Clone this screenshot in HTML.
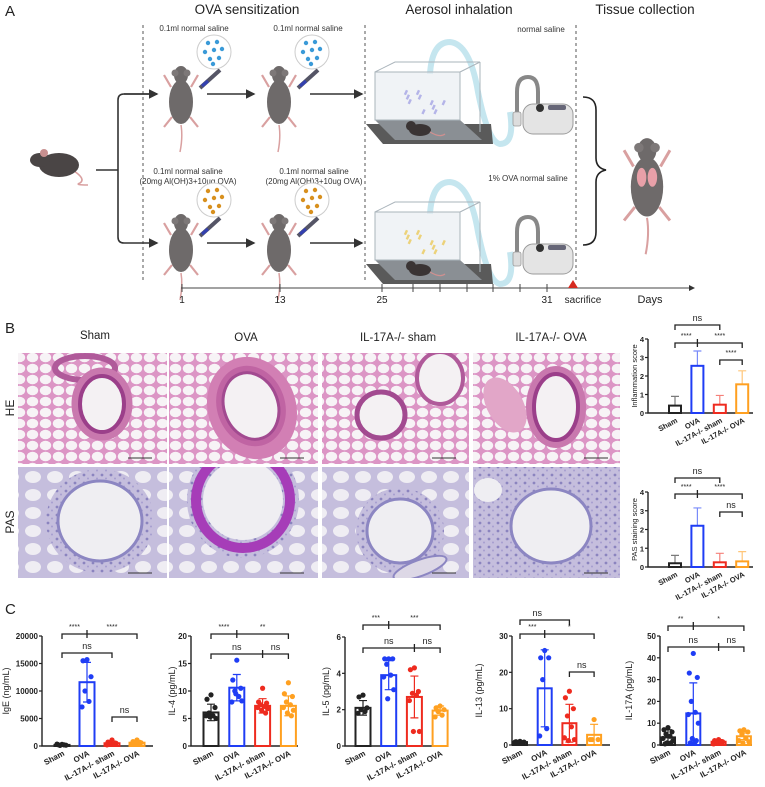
<!DOCTYPE html>
<html><head><meta charset="utf-8"><style>
html,body{margin:0;padding:0;background:#fff;}
svg{display:block;font-family:"Liberation Sans",Arial,sans-serif;}
</style></head><body>
<svg id="fig" width="765" height="787" viewBox="0 0 765 787" xmlns="http://www.w3.org/2000/svg">
<defs>
<pattern id="hePat" width="13" height="11" patternUnits="userSpaceOnUse">
<rect width="13" height="11" fill="#dc95c5"/>
<ellipse cx="6.5" cy="5.5" rx="5.7" ry="4.7" fill="#f7f3f6"/>
</pattern>
<pattern id="pasPat" width="9" height="8" patternUnits="userSpaceOnUse">
<rect width="9" height="8" fill="#c5bedd"/>
<circle cx="3" cy="3" r="1.4" fill="#8b84bf"/>
<circle cx="7" cy="6.5" r="1" fill="#a59ecf"/>
</pattern>
<pattern id="pasAlv" width="22" height="18" patternUnits="userSpaceOnUse">
<rect width="22" height="18" fill="#c5bedd"/>
<ellipse cx="11" cy="9" rx="8" ry="6" fill="#efedf3"/>
</pattern>
<clipPath id="c1"><rect x="18" y="353" width="149" height="111"/></clipPath>
<clipPath id="c2"><rect x="169" y="353" width="149" height="111"/></clipPath>
<clipPath id="c3"><rect x="322" y="353" width="147" height="111"/></clipPath>
<clipPath id="c4"><rect x="473" y="353" width="147" height="111"/></clipPath>
<clipPath id="c5"><rect x="18" y="467" width="149" height="111"/></clipPath>
<clipPath id="c6"><rect x="169" y="467" width="149" height="111"/></clipPath>
<clipPath id="c7"><rect x="322" y="467" width="147" height="111"/></clipPath>
<clipPath id="c8"><rect x="473" y="467" width="147" height="111"/></clipPath>
<marker id="arr" markerWidth="6" markerHeight="6" refX="5" refY="3" orient="auto"><path d="M0,0 L6,3 L0,6 z" fill="#333"/></marker>
</defs>

<g>
<text x="5" y="16" font-size="15" fill="#222">A</text>
<text x="247" y="14" font-size="13.5" text-anchor="middle" fill="#222">OVA sensitization</text>
<text x="459" y="14" font-size="13.5" text-anchor="middle" fill="#222">Aerosol inhalation</text>
<text x="645" y="14" font-size="13.5" text-anchor="middle" fill="#222">Tissue collection</text>
<g stroke="#555" stroke-width="1" stroke-dasharray="3,3">
<line x1="143" y1="25" x2="143" y2="280"/><line x1="365" y1="25" x2="365" y2="280"/><line x1="576" y1="25" x2="576" y2="280"/>
</g>
<g fill="none" stroke="#333" stroke-width="1.6">
<path d="M96,170 L118,170"/>
<path d="M157,94 L124,94 Q118,94 118,100 L118,237 Q118,243 124,243 L157,243" marker-end="url(#arr)"/>
<path d="M124,94 L157,94" marker-end="url(#arr)"/>
<line x1="207" y1="94" x2="254" y2="94" marker-end="url(#arr)"/>
<line x1="310" y1="94" x2="362" y2="94" marker-end="url(#arr)"/>
<line x1="207" y1="243" x2="254" y2="243" marker-end="url(#arr)"/>
<line x1="310" y1="243" x2="362" y2="243" marker-end="url(#arr)"/>
</g>
<g font-size="8" fill="#333" text-anchor="middle">
<text x="194" y="31">0.1ml normal saline</text>
<text x="308" y="31">0.1ml normal saline</text>
<text x="188" y="174">0.1ml normal saline</text>
<text x="188" y="184">(20mg Al(OH)3+10ug OVA)</text>
<text x="314" y="174">0.1ml normal saline</text>
<text x="314" y="184">(20mg Al(OH)3+10ug OVA)</text>
<text x="541" y="32">normal saline</text>
<text x="528" y="181">1% OVA normal saline</text>
</g>
<g id="mice"></g>
<g id="chambers"></g>
<path d="M583,97 Q596,97 596,110 L596,158 Q596,168 606,170 Q596,172 596,182 L596,232 Q596,245 583,245" fill="none" stroke="#222" stroke-width="1.6"/>
<g>
<line x1="181" y1="288" x2="694" y2="288" stroke="#444" stroke-width="1" marker-end="url(#arr)"/>
<g stroke="#444" stroke-width="1" id="tticks"></g>
<path d="M568,288 L578,288 L573,280 z" fill="#d62b20"/>
<g font-size="10" fill="#222" text-anchor="middle">
<text x="182" y="303">1</text><text x="280" y="303">13</text><text x="382" y="303">25</text><text x="547" y="303">31</text>
<text x="583" y="303">sacrifice</text><text x="650" y="303" font-size="11">Days</text>
</g>
</g>
</g>

<g>
<text x="5" y="333" font-size="15" fill="#222">B</text>
<g font-size="11.5" fill="#222" text-anchor="middle">
<text x="95" y="339">Sham</text><text x="246" y="341">OVA</text><text x="398" y="341">IL-17A-/- sham</text><text x="551" y="341">IL-17A-/- OVA</text>
</g>
<text transform="translate(14,408) rotate(-90)" font-size="12" text-anchor="middle" fill="#222">HE</text>
<text transform="translate(14,522) rotate(-90)" font-size="12" text-anchor="middle" fill="#222">PAS</text>

<g clip-path="url(#c1)">
<rect x="18" y="353" width="149" height="111" fill="url(#hePat)"/>
<ellipse cx="85" cy="368" rx="30" ry="12" fill="none" stroke="#b05a9a" stroke-width="6"/>
<ellipse cx="102" cy="404" rx="26" ry="32" fill="none" stroke="#c978ae" stroke-width="9"/>
<ellipse cx="102" cy="404" rx="22" ry="28" fill="#f4f1f3" stroke="#9b3f8a" stroke-width="4"/>
</g>
<g clip-path="url(#c2)">
<rect x="169" y="353" width="149" height="111" fill="url(#hePat)"/>
<ellipse cx="252" cy="408" rx="44" ry="52" transform="rotate(-20 252 408)" fill="#d27fb4"/>
<ellipse cx="251" cy="406" rx="34" ry="41" transform="rotate(-20 251 406)" fill="#c064a3"/>
<ellipse cx="251" cy="406" rx="27" ry="34" transform="rotate(-20 251 406)" fill="#f4f1f3" stroke="#a24a90" stroke-width="3"/>
</g>
<g clip-path="url(#c3)">
<rect x="322" y="353" width="147" height="111" fill="url(#hePat)"/>
<ellipse cx="381" cy="415" rx="24" ry="23" fill="#f4f1f3" stroke="#a24a90" stroke-width="5"/>
<ellipse cx="440" cy="378" rx="23" ry="26" fill="#f4f1f3" stroke="#b05a9a" stroke-width="4"/>
</g>
<g clip-path="url(#c4)">
<rect x="473" y="353" width="147" height="111" fill="url(#hePat)"/>
<ellipse cx="505" cy="405" rx="18" ry="30" transform="rotate(-30 505 405)" fill="#e2a6c8"/>
<ellipse cx="556" cy="407" rx="26" ry="37" fill="none" stroke="#c978ae" stroke-width="8"/>
<ellipse cx="556" cy="407" rx="22" ry="33" fill="#f4f1f3" stroke="#9b3f8a" stroke-width="4"/>
</g>
<g clip-path="url(#c5)">
<rect x="18" y="467" width="149" height="111" fill="url(#pasAlv)"/>
<ellipse cx="100" cy="521" rx="54" ry="52" fill="url(#pasPat)"/>
<ellipse cx="100" cy="521" rx="42" ry="40" fill="#efeef2" stroke="#8c86c2" stroke-width="3"/>
</g>
<g clip-path="url(#c6)">
<rect x="169" y="467" width="149" height="111" fill="url(#pasAlv)"/>
<ellipse cx="243" cy="500" rx="56" ry="58" fill="url(#pasPat)"/>
<ellipse cx="243" cy="500" rx="47" ry="48" fill="none" stroke="#a63db8" stroke-width="10"/>
<ellipse cx="243" cy="500" rx="40" ry="40" fill="#efeef2"/>
</g>
<g clip-path="url(#c7)">
<rect x="322" y="467" width="147" height="111" fill="url(#pasAlv)"/>
<ellipse cx="400" cy="531" rx="44" ry="43" fill="url(#pasPat)"/>
<ellipse cx="400" cy="531" rx="33" ry="32" fill="#efeef2" stroke="#8c86c2" stroke-width="3"/>
<ellipse cx="420" cy="568" rx="28" ry="8" transform="rotate(-20 420 568)" fill="#ddd8e6" stroke="#8c86c2" stroke-width="2"/>
</g>
<g clip-path="url(#c8)">
<rect x="473" y="467" width="147" height="111" fill="url(#pasPat)"/>
<ellipse cx="488" cy="490" rx="14" ry="12" fill="#efeef2"/>
<ellipse cx="551" cy="526" rx="40" ry="37" fill="#efeef2" stroke="#8c86c2" stroke-width="3"/>
</g>
<g id="scalebars" stroke="#333" stroke-width="1"></g>
<g id="scoreCharts"></g>
</g>

<g>
<text x="5" y="614" font-size="15" fill="#222">C</text>
<g id="cytoCharts"></g>
</g>
</svg>

<script>
const cats = ["Sham", "OVA", "IL-17A-/- sham", "IL-17A-/- OVA"];
const groupColors = ["#222222", "#1f3df5", "#ee2b1f", "#ffa020"];

const inflMeans = [0.4, 2.55, 0.45, 1.55];
const inflErr = [0.9, 3.35, 0.95, 2.28];
const pasMeans = [0.2, 2.2, 0.25, 0.3];
const pasErr = [0.62, 3.15, 0.73, 0.82];
const scoreTicks = [0, 1, 2, 3, 4];

const igeMeans = [200, 11600, 500, 600];
const igeErr = [380, 15200, 900, 1000];
const igeDots = [[300, 250, 150, 100, 200, 350], [15700, 15500, 12600, 10000, 8100, 7100], [1100, 700, 500, 400, 300, 200], [1100, 800, 600, 500, 400, 300]];
const igeTicks = [0, 5000, 10000, 15000, 20000];

const il4Means = [6.1, 10.6, 7.3, 7.3];
const il4Err = [7.6, 13.0, 8.6, 9.1];
const il4Dots = [[9.3, 8.5, 7.0, 6.0, 5.5, 5.5, 5.0, 5.3], [15.6, 12.0, 10.5, 10.0, 9.0, 8.0, 8.2, 9.5], [10.5, 8.0, 7.8, 7.5, 7.2, 7.0, 6.8, 6.5, 6.0], [11.5, 9.5, 9.0, 8.0, 7.5, 7.0, 6.5, 6.0, 5.5]];
const il4Ticks = [0, 5, 10, 15, 20];

const il5Means = [2.1, 3.9, 2.7, 1.95];
const il5Err = [2.5, 4.7, 3.85, 2.2];
const il5Dots = [[2.8, 2.7, 2.1, 2.0, 1.9, 1.8], [4.8, 4.8, 4.8, 4.5, 3.9, 3.8, 3.1, 2.6], [4.3, 4.2, 3.0, 2.9, 2.8, 2.5, 0.8, 0.8], [2.2, 2.1, 2.0, 1.9, 1.7, 1.6]];
const il5Ticks = [0, 2, 4, 6];

const il13Means = [0.8, 15.6, 6.0, 2.8];
const il13Err = [1.1, 26.2, 11.2, 5.7];
const il13Dots = [[1.0, 0.9, 0.8, 0.7, 0.6, 0.8], [26.0, 24.0, 24.0, 18.0, 4.5, 2.5], [14.8, 13.0, 10.0, 8.0, 5.0, 2.0, 1.5, 1.2], [7.0, 1.5, 1.5, 1.5]];
const il13Ticks = [0, 10, 20, 30];

const il17Means = [3.5, 14.5, 1.5, 4.0];
const il17Err = [7.0, 28.5, 2.5, 5.5];
const il17Dots = [[8, 7, 6, 5, 4, 3, 2, 1, 1, 0.5], [42, 33, 31, 20, 15, 14, 10, 3, 2, 1, 1], [2.5, 2, 1.5, 1, 1, 0.5], [7, 6.5, 6, 5, 3, 2, 1.5, 1]];
const il17Ticks = [0, 10, 20, 30, 40, 50];

const NS = "http://www.w3.org/2000/svg";
function mk(tag, attrs, parent) {
  const e = document.createElementNS(NS, tag);
  for (const k in attrs) e.setAttribute(k, attrs[k]);
  if (parent) parent.appendChild(e);
  return e;
}
const jit = [0, -4, 4, -2, 2, -5, 5, -1, 3, -3, 1];

function drawChart(parent, o) {
  const g = mk("g", {}, parent);
  
  
  const max = o.ticks[o.ticks.length - 1];
  const ys = v => o.y0 - v / max * (o.y0 - o.ytop);
  const xs = i => o.first + i * o.step;
  const ax = mk("path", {d: `M${o.x0},${o.ytop} L${o.x0},${o.y0} L${o.xend},${o.y0}`, fill: "none", stroke: "#222", "stroke-width": 1.4}, g);
  
  
  o.ticks.forEach(t => {
    mk("line", {x1: o.x0 - 3, x2: o.x0, y1: ys(t), y2: ys(t), stroke: "#222", "stroke-width": 1.2}, g);
    const tl = mk("text", {x: o.x0 - 4, y: ys(t) + 3, "font-size": o.tickSize || 8, "font-weight": "bold", "text-anchor": "end", fill: "#222"}, g);
    tl.textContent = t;
    
    
  });
  const yl = mk("text", {transform: `translate(${o.ylx},${(o.y0 + o.ytop) / 2}) rotate(-90)`, "font-size": o.ylSize || 9, "text-anchor": "middle", fill: "#222"}, g);
  yl.textContent = o.ylabel;
  
  
  o.means.forEach((m, i) => {
    const c = xs(i), col = groupColors[i];
    const bar = mk("rect", {x: c - o.bw / 2, y: ys(m), width: o.bw, height: o.y0 - ys(m), fill: "#fff", stroke: col, "stroke-width": 2}, g);
    
    
    const up = o.errs[i];
    const lo = o.lower ? Math.max(0, 2 * m - up) : m;
    const eb = mk("path", {d: `M${c},${ys(lo)} L${c},${ys(up)} M${c - 4},${ys(up)} L${c + 4},${ys(up)}` + (o.lower && lo > 0 ? ` M${c - 4},${ys(lo)} L${c + 4},${ys(lo)}` : ""), stroke: col, "stroke-width": 1.2, fill: "none", opacity: o.lower ? 1 : 0.6}, g);
    
    
    if (o.dots) o.dots[i].forEach((v, j) => {
      const d = mk("circle", {cx: c + jit[j % jit.length], cy: ys(v), r: 2.6, fill: col}, g);
      
      
    });
    const xl = mk("text", {transform: `translate(${c + 3},${o.y0 + 9}) rotate(-28)`, "font-size": o.xlSize || 8, "font-weight": "bold", "text-anchor": "end", fill: "#222"}, g);
    xl.textContent = cats[i];
    
    
  });
  o.brackets.forEach(b => {
    const [a, z, y, mid, labs] = b;
    let d = `M${xs(a)},${y + 5} L${xs(a)},${y} L${xs(z)},${y} L${xs(z)},${y + 5}`;
    if (mid !== null) d += ` M${xs(mid)},${y - 4} L${xs(mid)},${y + 4}`;
    const br = mk("path", {d: d, stroke: "#222", "stroke-width": 1.3, fill: "none"}, g);
    
    
    labs.forEach(l => {
      const st = l[1].startsWith("*");
      const t = mk("text", {x: xs(0) + l[0] * o.step, y: st ? y - 5 : y - 4, "font-size": st ? 7 : 9, "text-anchor": "middle", fill: "#222"}, g);
      t.textContent = l[1];
      
      
    });
  });
}

const sc = document.getElementById("scoreCharts");
drawChart(sc, {name: "inflammation-score-chart", x0: 648, xend: 753, y0: 413, ytop: 339, ticks: scoreTicks, first: 675, step: 22.4, bw: 12,
  means: inflMeans, errs: inflErr, ylabel: "Inflammation score", ylx: 637, ylSize: 7.5, tickSize: 7.5, xlSize: 7.5,
  brackets: [[0, 2, 325, null, [[1, "ns"]]], [0, 3, 343, 1, [[0.5, "****"], [2, "****"]]], [2, 3, 360, null, [[2.5, "****"]]]]});
drawChart(sc, {name: "pas-score-chart", x0: 648, xend: 753, y0: 567, ytop: 492, ticks: scoreTicks, first: 675, step: 22.4, bw: 12,
  means: pasMeans, errs: pasErr, ylabel: "PAS staining score", ylx: 637, ylSize: 7.5, tickSize: 7.5, xlSize: 7.5,
  brackets: [[0, 2, 478, null, [[1, "ns"]]], [0, 3, 494, 1, [[0.5, "****"], [2, "****"]]], [2, 3, 512, null, [[2.5, "ns"]]]]});

const cc = document.getElementById("cytoCharts");
drawChart(cc, {name: "ige-chart", x0: 42, xend: 153, y0: 746, ytop: 636, ticks: igeTicks, first: 62, step: 25, bw: 15, lower: true,
  means: igeMeans, errs: igeErr, dots: igeDots, ylabel: "IgE (ng/mL)", ylx: 9,
  brackets: [[0, 3, 634, 1, [[0.5, "****"], [2, "****"]]], [0, 2, 653, null, [[1, "ns"]]], [2, 3, 717, null, [[2.5, "ns"]]]]});
drawChart(cc, {name: "il4-chart", x0: 191, xend: 298, y0: 746, ytop: 636, ticks: il4Ticks, first: 211, step: 25.8, bw: 15, lower: true,
  means: il4Means, errs: il4Err, dots: il4Dots, ylabel: "IL-4 (pg/mL)", ylx: 175,
  brackets: [[0, 3, 634, 1, [[0.5, "****"], [2, "**"]]], [0, 3, 654, 2, [[1, "ns"], [2.5, "ns"]]]]});
drawChart(cc, {name: "il5-chart", x0: 345, xend: 447, y0: 746, ytop: 637, ticks: il5Ticks, first: 363, step: 25.7, bw: 15, lower: true,
  means: il5Means, errs: il5Err, dots: il5Dots, ylabel: "IL-5 (pg/mL)", ylx: 329,
  brackets: [[0, 3, 625, 1, [[0.5, "***"], [2, "***"]]], [0, 3, 648, 2, [[1, "ns"], [2.5, "ns"]]]]});
drawChart(cc, {name: "il13-chart", x0: 512, xend: 610, y0: 745, ytop: 636, ticks: il13Ticks, first: 520, step: 24.7, bw: 14, lower: true,
  means: il13Means, errs: il13Err, dots: il13Dots, ylabel: "IL-13 (pg/mL)", ylx: 482,
  brackets: [[0, 2, 620, null, [[0.7, "ns"]]], [0, 3, 634, 1, [[0.5, "***"], [2, "*"]]], [2, 3, 672, null, [[2.5, "ns"]]]]});
drawChart(cc, {name: "il17a-chart", x0: 660, xend: 752, y0: 745, ytop: 636, ticks: il17Ticks, first: 668, step: 25.3, bw: 14, lower: true,
  means: il17Means, errs: il17Err, dots: il17Dots, ylabel: "IL-17A (pg/mL)", ylx: 632,
  brackets: [[0, 3, 626, 1, [[0.5, "**"], [2, "*"]]], [0, 3, 647, 2, [[1, "ns"], [2.5, "ns"]]]]});

const tt = document.getElementById("tticks");
[182, 280, 382, 413, 440, 467, 493, 520, 547].forEach(x => mk("line", {x1: x, x2: x, y1: 284, y2: 292}, tt));

const sb = document.getElementById("scalebars");
[[140, 458], [292, 458], [444, 458], [596, 458], [140, 573], [292, 573], [444, 573], [596, 573]].forEach(p => mk("line", {x1: p[0] - 12, x2: p[0] + 12, y1: p[1], y2: p[1]}, sb));

const mice = document.getElementById("mice");
function uprightMouse(cx, cy, s, name) {
  const g = mk("g", {transform: `translate(${cx},${cy}) scale(${s})`}, mice);
  
  
  mk("path", {d: "M0,28 Q2,40 -1,55", stroke: "#d9a0a0", "stroke-width": 1.5, fill: "none"}, g);
  mk("path", {d: "M-10,-10 L-17,-22 M10,-10 L17,-22 M-9,20 L-17,30 M9,20 L17,30", stroke: "#d9a0a0", "stroke-width": 2.2, fill: "none"}, g);
  mk("ellipse", {cx: 0, cy: 5, rx: 12, ry: 22, fill: "#6e6a6a"}, g);
  mk("ellipse", {cx: 0, cy: -22, rx: 7, ry: 9, fill: "#6e6a6a"}, g);
  mk("circle", {cx: -6, cy: -24, r: 3.5, fill: "#7d7878"}, g);
  mk("circle", {cx: 6, cy: -24, r: 3.5, fill: "#7d7878"}, g);
  return g;
}
function syringe(x, y, dots, col) {
  const g = mk("g", {}, mice);
  
  
  mk("line", {x1: x - 14, y1: y + 28, x2: x + 6, y2: y + 10, stroke: "#556", "stroke-width": 4}, g);
  mk("line", {x1: x - 12, y1: y + 26, x2: x - 6, y2: y + 21, stroke: "#3340b0", "stroke-width": 3.2}, g);
  mk("circle", {cx: x, cy: y - 8, r: 17, fill: "#fff", stroke: "#ccc", "stroke-width": 1}, g);
  dots.forEach(d => mk("circle", {cx: x + d[0], cy: y - 8 + d[1], r: 2.2, fill: col}, g));
}
const dotPos = [[-6, -9], [3, -10], [-9, 0], [0, -2], [8, -3], [-4, 7], [5, 6], [-1, 12]];
uprightMouse(181, 97, 1.0, "sham-mouse-injection-1");
uprightMouse(279, 97, 1.0, "sham-mouse-injection-2");
uprightMouse(181, 245, 1.0, "ova-mouse-injection-1");
uprightMouse(279, 245, 1.0, "ova-mouse-injection-2");
syringe(214, 60, dotPos, "#3a9ad8");
syringe(312, 60, dotPos, "#3a9ad8");
syringe(214, 208, dotPos, "#d8901e");
syringe(312, 208, dotPos, "#d8901e");
const rm = uprightMouse(647, 180, 1.35, "sacrificed-mouse");
mk("ellipse", {cx: -4, cy: -2, rx: 3.5, ry: 7, fill: "#e8a0a8"}, rm);
mk("ellipse", {cx: 4, cy: -2, rx: 3.5, ry: 7, fill: "#e8a0a8"}, rm);
const lm = mk("g", {transform: "translate(56,165)"}, mice);


mk("path", {d: "M18,6 Q30,14 24,18 Q18,20 32,20", stroke: "#d9a0a0", "stroke-width": 1.6, fill: "none"}, lm);
mk("ellipse", {cx: 3, cy: 0, rx: 20, ry: 12, fill: "#4a4545"}, lm);
mk("ellipse", {cx: -16, cy: -5, rx: 10, ry: 7, fill: "#4a4545"}, lm);
mk("circle", {cx: -12, cy: -12, r: 4, fill: "#c89090"}, lm);

const ch = document.getElementById("chambers");
function chamber(y, col, name) {
  const g = mk("g", {}, ch);
  
  
  mk("path", {d: `M430,${y + 2} Q432,${y - 30} 450,${y - 30} Q470,${y - 28} 478,${y + 20} Q488,${y + 70} 500,${y + 72} Q515,${y + 72} 510,${y + 40}`, stroke: "#c5e6ef", "stroke-width": 6, fill: "none"}, g);
  mk("path", {d: `M366,${y + 52} L403,${y + 52} L491,${y + 52} L493,${y + 72} L383,${y + 72} z`, fill: "#5a5a5a"}, g);
  mk("path", {d: `M375,${y + 48} L460,${y + 48} L482,${y + 68} L395,${y + 68} z`, fill: "#8a8f94"}, g);
  mk("rect", {x: 375, y: y, width: 85, height: 48, fill: "#e9eef2", "fill-opacity": 0.7, stroke: "#aab4bb", "stroke-width": 1}, g);
  mk("path", {d: `M375,${y} L395,${y - 10} L480,${y - 10} L460,${y} M480,${y - 10} L480,${y + 60}`, fill: "none", stroke: "#aab4bb", "stroke-width": 1}, g);
  for (let k = 0; k < 10; k++) mk("rect", {x: 405 + (k % 5) * 4 + (k > 4 ? 24 : 0), y: y + 18 + (k % 3) * 5, width: 2.4, height: 5, fill: col, transform: `rotate(25 ${406 + (k % 5) * 4} ${y + 20})`}, g);
  mk("ellipse", {cx: 420, cy: y + 58, rx: 11, ry: 6, fill: "#3a3434"}, g);
  mk("circle", {cx: 411, cy: y + 54, r: 5, fill: "#3a3434"}, g);
  mk("path", {d: `M430,${y + 60} Q440,${y + 66} 445,${y + 62}`, stroke: "#d09090", "stroke-width": 1.2, fill: "none"}, g);
  mk("path", {d: `M517,${y + 40} L517,${y + 20} Q517,${y + 5} 528,${y + 5} Q538,${y + 5} 538,${y + 20} L538,${y + 33}`, stroke: "#888", "stroke-width": 4, fill: "none"}, g);
  mk("rect", {x: 523, y: y + 32, width: 50, height: 30, rx: 10, fill: "#e4e4e4", stroke: "#9a9a9a", "stroke-width": 1}, g);
  mk("circle", {cx: 540, cy: y + 36, r: 4, fill: "#333"}, g);
  mk("rect", {x: 548, y: y + 33, width: 18, height: 5, rx: 2, fill: "#667"}, g);
  mk("rect", {x: 513, y: y + 40, width: 8, height: 14, rx: 2, fill: "#ddd", stroke: "#999", "stroke-width": 0.8}, g);
}
chamber(72, "#b4b4e8", "saline-aerosol-chamber");
chamber(212, "#ecd27a", "ova-aerosol-chamber");
</script>
</body></html>
